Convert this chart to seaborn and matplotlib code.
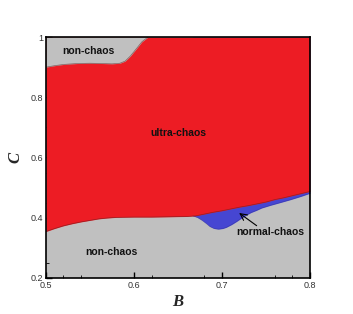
import seaborn as sns
import matplotlib
matplotlib.use("Agg")
import matplotlib.pyplot as plt

# lower edge of the ultra-chaos (red) region
b_red = [0.500, 0.510, 0.520, 0.530, 0.540, 0.550, 0.560, 0.570, 0.580, 0.600,
         0.620, 0.640, 0.660, 0.670, 0.675, 0.680, 0.690, 0.700, 0.710, 0.720,
         0.730, 0.740, 0.750, 0.760, 0.770, 0.780, 0.790, 0.800]
c_red = [0.354, 0.364, 0.373, 0.380, 0.386, 0.391, 0.396, 0.399, 0.401, 0.402,
         0.402, 0.403, 0.404, 0.406, 0.409, 0.412, 0.418, 0.423, 0.429, 0.435,
         0.440, 0.446, 0.452, 0.460, 0.466, 0.473, 0.480, 0.487]

# lower edge of the normal-chaos (blue) pocket
b_blue = [0.667, 0.672, 0.677, 0.682, 0.686, 0.691, 0.696, 0.701, 0.705, 0.711,
          0.717, 0.722, 0.728, 0.733, 0.739, 0.745, 0.755, 0.766, 0.778, 0.789,
          0.800]
c_blue = [0.406, 0.401, 0.392, 0.381, 0.371, 0.364, 0.362, 0.364, 0.368, 0.377,
          0.388, 0.398, 0.409, 0.417, 0.424, 0.432, 0.441, 0.450, 0.460, 0.470,
          0.481]

# lower edge of the upper non-chaos (grey) region
b_top = [0.500, 0.510, 0.520, 0.535, 0.550, 0.565, 0.575, 0.584, 0.590, 0.596,
         0.603, 0.609, 0.616]
c_top = [0.900, 0.905, 0.909, 0.912, 0.913, 0.912, 0.911, 0.913, 0.920, 0.937,
         0.962, 0.984, 1.000]

x_ticks = [0.5, 0.6, 0.7, 0.8]
x_minor = [0.52, 0.54, 0.62, 0.68, 0.76, 0.78]
y_ticks = [0.2, 0.4, 0.6, 0.8, 1.0]
y_minor = [0.25, 0.45, 0.55, 0.7]
y_ticklabels = ["0.2", "0.4", "0.6", "0.8", "1"]

RED = "#ED1C24"
GREY = "#C0C0C0"
BLUE = "#4646D2"

sns.set_theme(style="ticks")
plt.rcParams["font.family"] = ["Liberation Sans", "DejaVu Sans"]

fig = plt.figure(figsize=(3.53, 3.14), dpi=100)
ax = fig.add_axes([0.130, 0.115, 0.748, 0.767])
ax.set_facecolor(GREY)

ax.fill_between(b_blue, c_blue, 1.0, color=BLUE, lw=0)
ax.fill_between(b_red, c_red, 1.0, color=RED, lw=0)
ax.fill_between(b_top, c_top, 1.0, color=GREY, lw=0)

# faint boundary lines
sns.lineplot(x=b_red, y=c_red, ax=ax, color="#5a2020", lw=0.5, alpha=0.6, sort=False)
sns.lineplot(x=b_top, y=c_top, ax=ax, color="#5a2020", lw=0.5, alpha=0.6, sort=False)
sns.lineplot(x=b_blue, y=c_blue, ax=ax, color="#303080", lw=0.4, alpha=0.5, sort=False)

ax.set_xlim(0.5, 0.8)
ax.set_ylim(0.2, 1.0)
ax.set_xticks(x_ticks)
ax.set_xticklabels([str(v) for v in x_ticks])
ax.set_yticks(y_ticks)
ax.set_yticklabels(y_ticklabels)
ax.set_xticks(x_minor, minor=True)
ax.set_yticks(y_minor, minor=True)
ax.tick_params(which="major", direction="in", length=4, width=1, color="black",
               labelsize=6.5, labelcolor="#333333", pad=2)
ax.tick_params(which="minor", direction="in", length=2.5, width=0.6, color="black")
ax.tick_params(top=False, right=False, which="both")

for s in ax.spines.values():
    s.set_color("black")
    s.set_linewidth(1.2)
    s.set_visible(True)

lab = dict(family=["Liberation Serif", "DejaVu Serif"], fontweight="bold",
           fontstyle="italic", fontsize=12)
ax.set_xlabel("B", labelpad=3, **lab)
ax.set_ylabel("C", labelpad=5, **lab)

txt = dict(fontsize=7.5, fontweight="bold", color="#111111", ha="center", va="center")
ax.text(0.548, 0.955, "non-chaos", **txt)
ax.text(0.650, 0.680, "ultra-chaos", **txt)
ax.text(0.574, 0.287, "non-chaos", **txt)
ax.text(0.755, 0.352, "normal-chaos", **txt)
ax.annotate("", xy=(0.717, 0.421), xytext=(0.742, 0.368),
            arrowprops=dict(arrowstyle="->", color="black", lw=0.8))

fig.savefig("out.png", dpi=100)
